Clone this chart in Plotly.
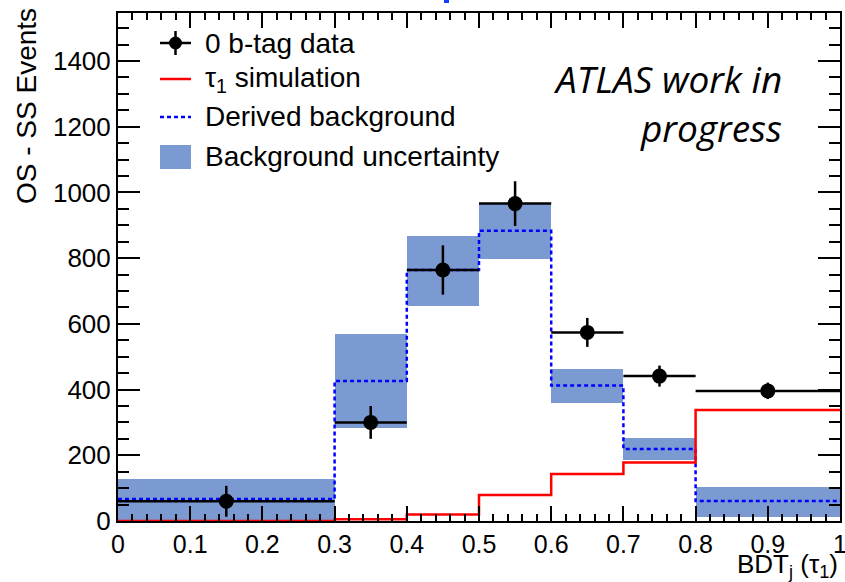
import plotly.graph_objects as go

# Bin edges in BDT_j(tau_1)
bin_edges = [0.0, 0.3, 0.4, 0.5, 0.6, 0.7, 0.8, 1.0]

# 0 b-tag data (OS - SS) with statistical errors
data_vals = [60, 300, 764, 966, 574, 441, 396]
data_errs = [47, 50, 75, 68, 44, 32, 25]

# tau_1 simulation
sim_vals = [0, 5, 20, 79, 143, 178, 338]

# Derived background and its uncertainty band
bkg_vals = [67, 426, 764, 883, 412, 219, 61]
bkg_low = [0, 283, 655, 798, 360, 186, 13]
bkg_high = [128, 569, 867, 968, 463, 253, 104]

x_ticks = [0, 0.1, 0.2, 0.3, 0.4, 0.5, 0.6, 0.7, 0.8, 0.9, 1]
x_tick_text = ["0", "0.1", "0.2", "0.3", "0.4", "0.5", "0.6", "0.7", "0.8", "0.9", "1"]
y_ticks = [0, 200, 400, 600, 800, 1000, 1200, 1400]

centers = [(a + b) / 2 for a, b in zip(bin_edges[:-1], bin_edges[1:])]
widths = [b - a for a, b in zip(bin_edges[:-1], bin_edges[1:])]
half_widths = [w / 2 for w in widths]

BAND = "#7a9ad1"
FONT = "Liberation Sans, Arial, sans-serif"

fig = go.Figure()

# Background uncertainty band
fig.add_trace(go.Bar(
    x=centers, y=[h - l for h, l in zip(bkg_high, bkg_low)], base=bkg_low,
    width=widths, marker=dict(color=BAND, line=dict(width=0)),
    showlegend=False, hoverinfo="skip",
))

# Derived background (dashed step)
fig.add_trace(go.Scatter(
    x=bin_edges, y=bkg_vals + [bkg_vals[-1]], mode="lines",
    line=dict(color="#0000ff", width=2.5, dash="4px,3px", shape="hv"),
    showlegend=False,
))

# tau_1 simulation (solid red step)
fig.add_trace(go.Scatter(
    x=bin_edges, y=sim_vals + [sim_vals[-1]], mode="lines",
    line=dict(color="#ff0000", width=2.5, shape="hv"),
    showlegend=False,
))

# Data points
fig.add_trace(go.Scatter(
    x=centers, y=data_vals, mode="markers",
    marker=dict(color="black", size=15, symbol="circle"),
    error_y=dict(type="data", array=data_errs, color="black", thickness=2.5, width=0),
    error_x=dict(type="data", array=half_widths, color="black", thickness=2.5, width=0),
    showlegend=False,
))

# Hand-built legend (paper coordinates)
L0, T0, PW, PH = 118, 13, 722, 508  # plot area in pixels


def px(xp):
    return (xp - L0) / PW


def py(yp):
    return 1 - (yp - T0) / PH


shapes = []
annotations = []
leg_x0, leg_x1 = 160, 191
rows = [43, 79, 117, 157]
labels = ["0 b-tag data", "τ<sub>1</sub> simulation", "Derived background", "Background uncertainty"]

# data entry: cross + dot
shapes.append(dict(type="line", xref="paper", yref="paper",
                   x0=px(leg_x0), x1=px(leg_x1), y0=py(rows[0]), y1=py(rows[0]),
                   line=dict(color="black", width=2.5)))
shapes.append(dict(type="line", xref="paper", yref="paper",
                   x0=px(175.5), x1=px(175.5), y0=py(rows[0] - 12), y1=py(rows[0] + 12),
                   line=dict(color="black", width=2.5)))
shapes.append(dict(type="circle", xref="paper", yref="paper",
                   x0=px(169), x1=px(182), y0=py(rows[0] - 6.5), y1=py(rows[0] + 6.5),
                   fillcolor="black", line=dict(color="black", width=0)))
# simulation entry
shapes.append(dict(type="line", xref="paper", yref="paper",
                   x0=px(leg_x0), x1=px(leg_x1), y0=py(rows[1]), y1=py(rows[1]),
                   line=dict(color="#ff0000", width=2.5)))
# derived background entry
shapes.append(dict(type="line", xref="paper", yref="paper",
                   x0=px(leg_x0), x1=px(leg_x1), y0=py(rows[2]), y1=py(rows[2]),
                   line=dict(color="#0000ff", width=2.5, dash="4px,3px")))
# uncertainty entry
shapes.append(dict(type="rect", xref="paper", yref="paper",
                   x0=px(leg_x0), x1=px(leg_x1), y0=py(rows[3] - 12), y1=py(rows[3] + 12),
                   fillcolor=BAND, line=dict(width=0)))

for yrow, text in zip(rows, labels):
    annotations.append(dict(xref="paper", yref="paper", x=px(203), y=py(yrow),
                            xanchor="left", yanchor="middle", text=text, showarrow=False,
                            font=dict(family=FONT, size=28, color="black")))

# ATLAS label
ATLAS_FONT = dict(family="Open Sans, sans-serif", size=37, color="black")
annotations.append(dict(xref="paper", yref="paper", x=px(784), y=py(78),
                        xanchor="right", yanchor="middle", text="<i>ATLAS work in</i>",
                        showarrow=False, font=ATLAS_FONT))
annotations.append(dict(xref="paper", yref="paper", x=px(784), y=py(127),
                        xanchor="right", yanchor="middle", text="<i>progress</i>",
                        showarrow=False, font=ATLAS_FONT))

# Axis titles (ROOT style: aligned to the axis ends)
annotations.append(dict(xref="paper", yref="paper", x=px(840), y=py(565),
                        xanchor="right", yanchor="middle",
                        text="BDT<sub>j</sub> (τ<sub>1</sub>)", showarrow=False,
                        font=dict(family=FONT, size=26, color="black")))
annotations.append(dict(xref="paper", yref="paper", x=px(26), y=py(6),
                        xanchor="center", yanchor="top", textangle=-90,
                        text="OS - SS Events", showarrow=False,
                        font=dict(family=FONT, size=28, color="black")))

# small clipped title fragment at the top edge
shapes.append(dict(type="rect", xref="paper", yref="paper",
                   x0=px(444), x1=px(449), y0=py(3), y1=py(0) + 0.01,
                   fillcolor="#1a3cff", line=dict(width=0)))

fig.update_layout(
    width=845, height=582,
    margin=dict(l=118, r=5, t=13, b=61, autoexpand=False),
    paper_bgcolor="white", plot_bgcolor="white",
    bargap=0, barmode="overlay",
    shapes=shapes, annotations=annotations,
    showlegend=False,
    font=dict(family=FONT, size=25, color="black"),
)

fig.update_xaxes(
    range=[0, 1], tickvals=x_ticks, ticktext=x_tick_text, automargin=False,
    ticklabeloverflow="allow",
    showgrid=False, zeroline=False,
    showline=True, linecolor="black", linewidth=2, mirror="ticks",
    ticks="inside", ticklen=15, tickwidth=1.5, tickcolor="black",
    minor=dict(dtick=0.02, ticks="inside", ticklen=7, tickwidth=1.5, tickcolor="black", showgrid=False),
    tickfont=dict(family=FONT, size=25, color="black"),
)
fig.update_yaxes(
    range=[0, 1546], tickvals=y_ticks, automargin=False,
    ticklabeloverflow="allow",
    showgrid=False, zeroline=False,
    showline=True, linecolor="black", linewidth=2, mirror="ticks",
    ticks="inside", ticklen=22, tickwidth=1.5, tickcolor="black",
    minor=dict(dtick=50, ticks="inside", ticklen=11, tickwidth=1.5, tickcolor="black", showgrid=False),
    tickfont=dict(family=FONT, size=26, color="black"),
)

fig.write_html("out.html")
